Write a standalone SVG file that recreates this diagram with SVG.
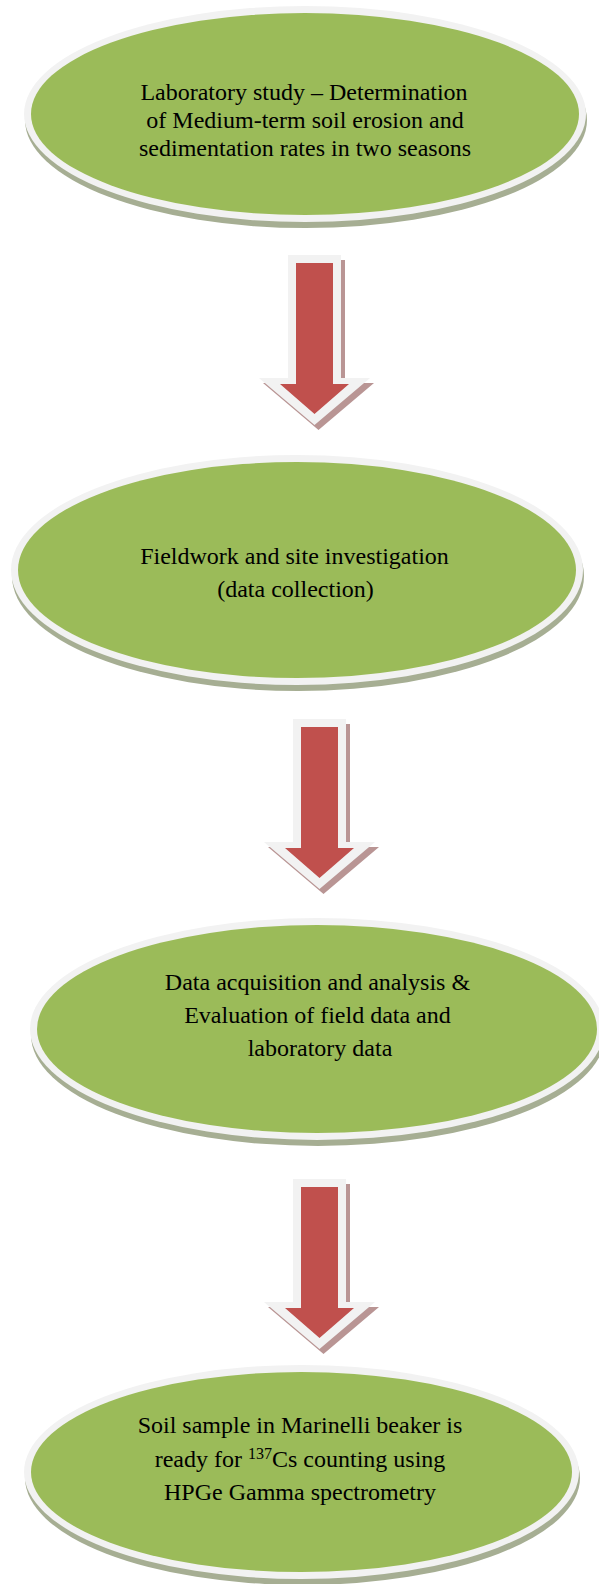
<svg xmlns="http://www.w3.org/2000/svg" xmlns:xlink="http://www.w3.org/1999/xlink" width="599" height="1584" viewBox="0 0 599 1584">
  <style>
    .shadow { fill: #a6ae93; }
    .rim { fill: #f2f2f2; }
    .body { fill: #9bbb59; }
    .label { font-family: "Liberation Serif", "Times New Roman", serif; font-size: 24px; fill: #000000; text-anchor: middle; }
    .sup { font-size: 16px; }
    .arrow-shadow { fill: #b99594; }
    .arrow-rim { fill: #f2f2f2; }
    .arrow-body { fill: #c0504d; }
  </style>
  <defs>
    <g id="arrow">
      <polygon class="arrow-shadow" points="-22.5,-3 30.5,-3 30.5,120 59.5,120 4,167 -51.5,120 -22.5,120"/>
      <polygon class="arrow-rim" points="-26.5,-8 26.5,-8 26.5,115 55.5,115 0,162 -55.5,115 -26.5,115"/>
      <polygon class="arrow-body" points="-18.5,0 18.5,0 18.5,121 34.5,121 0,151 -34.5,121 -18.5,121"/>
    </g>
  </defs>
  <rect width="599" height="1584" fill="#ffffff"/>

  <g id="connectors">
    <use xlink:href="#arrow" href="#arrow" transform="translate(314.5,263)"/>
    <use xlink:href="#arrow" href="#arrow" transform="translate(319.5,727)"/>
    <use xlink:href="#arrow" href="#arrow" transform="translate(319.5,1187)"/>
  </g>

  <g id="node-laboratory">
    <ellipse class="shadow" cx="306" cy="120" rx="281" ry="108"/>
    <ellipse class="rim" cx="305" cy="114" rx="281" ry="108"/>
    <ellipse class="body" cx="305" cy="114" rx="274" ry="101"/>
    <text class="label" x="304" y="100">Laboratory study – Determination</text>
    <text class="label" x="305" y="128">of Medium-term soil erosion and</text>
    <text class="label" x="305" y="156">sedimentation rates in two seasons</text>
  </g>

  <g id="node-fieldwork">
    <ellipse class="shadow" cx="298" cy="576" rx="286" ry="115"/>
    <ellipse class="rim" cx="297" cy="570" rx="286" ry="115"/>
    <ellipse class="body" cx="297" cy="570" rx="279" ry="108"/>
    <text class="label" x="294.5" y="564">Fieldwork and site investigation</text>
    <text class="label" x="295.5" y="597">(data collection)</text>
  </g>

  <g id="node-analysis">
    <ellipse class="shadow" cx="318" cy="1035" rx="287" ry="111"/>
    <ellipse class="rim" cx="317" cy="1029" rx="287" ry="111"/>
    <ellipse class="body" cx="317" cy="1029" rx="280" ry="104"/>
    <text class="label" x="317.5" y="990">Data acquisition and analysis &amp;</text>
    <text class="label" x="317.5" y="1023">Evaluation of field data and</text>
    <text class="label" x="320" y="1056">laboratory data</text>
  </g>

  <g id="node-counting">
    <ellipse class="shadow" cx="302.5" cy="1478" rx="277.5" ry="107"/>
    <ellipse class="rim" cx="301.5" cy="1472" rx="277.5" ry="107"/>
    <ellipse class="body" cx="301.5" cy="1472" rx="270.5" ry="100"/>
    <text class="label" x="300" y="1433">Soil sample in Marinelli beaker is</text>
    <text class="label" x="300" y="1467">ready for <tspan class="sup" dy="-8">137</tspan><tspan dy="8">Cs counting using</tspan></text>
    <text class="label" x="300" y="1500">HPGe Gamma spectrometry</text>
  </g>
</svg>
